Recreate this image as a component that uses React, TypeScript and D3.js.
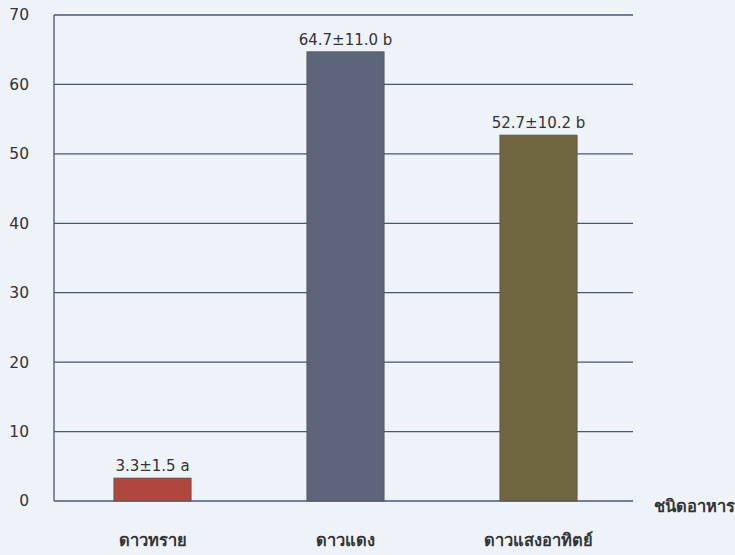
import React from "react";
import * as d3 from "d3";

const categories = ["ดาวทราย", "ดาวแดง", "ดาวแสงอาทิตย์"];
const values = [3.3, 64.7, 52.7];
const labels = ["3.3±1.5 a", "64.7±11.0 b", "52.7±10.2 b"];
const colors = ["#b0473c", "#5e6479", "#6f6541"];
const yTicks = [0, 10, 20, 30, 40, 50, 60, 70];
const xTitle = "ชนิดอาหาร";

export default function App() {
  const W = 735, H = 555;
  const left = 54, right = 633, top = 15, bottom = 501;
  const y = d3.scaleLinear().domain([0, 70]).range([bottom, top]);
  const x = d3.scaleBand().domain(categories).range([left, right]).paddingInner(0.6).paddingOuter(0.3);
  const font = "Tahoma, Verdana, 'DejaVu Sans', sans-serif";
  return (
    <svg width={W} height={H} style={{ position: "absolute", left: 0, top: 0, background: "#eef3f9" }} fontFamily={font}>
      <rect x={0} y={0} width={W} height={H} fill="#eef3f9" />
      {yTicks.map((t) => (
        <g key={t}>
          <line x1={left} x2={right} y1={y(t)} y2={y(t)} stroke="#4b566b" strokeWidth={1.3} />
          <text x={29} y={y(t)} dy="0.35em" textAnchor="end" fontSize={15.5} fill="#333">{t}</text>
        </g>
      ))}
      <line x1={left} x2={left} y1={top} y2={bottom} stroke="#4b566b" strokeWidth={1.3} />
      {categories.map((c, i) => (
        <g key={c}>
          <rect x={(x(c) as number) + 2} y={y(values[i])} width={x.bandwidth()} height={bottom - y(values[i])} fill={colors[i]} stroke="#555" strokeWidth={0.8} />
          <text x={(x(c) as number) + 2 + x.bandwidth() / 2} y={y(values[i]) - 7} textAnchor="middle" fontSize={15} fill="#333">{labels[i]}</text>
          <text x={(x(c) as number) + 2 + x.bandwidth() / 2} y={546} textAnchor="middle" fontSize={16.5} fontWeight="bold" fill="#333">{c}</text>
        </g>
      ))}
      <text x={735} y={512} textAnchor="end" fontSize={16.5} fontWeight="bold" fill="#333">{xTitle}</text>
    </svg>
  );
}
